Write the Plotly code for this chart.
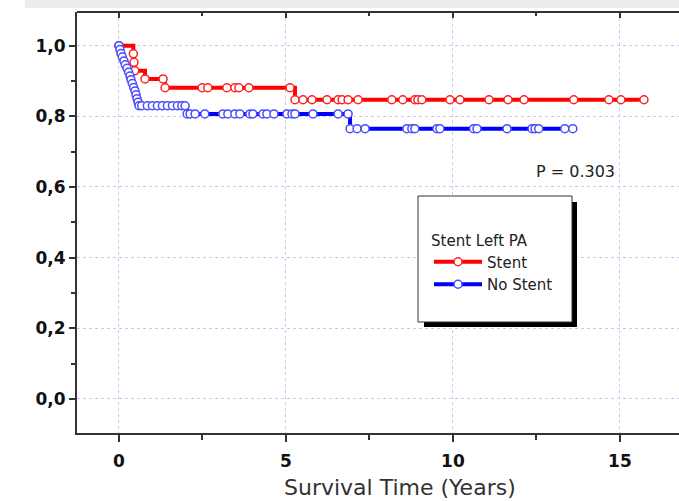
import plotly.graph_objects as go

# ---- data ----
stent_t = [0.0, 0.43, 0.45, 0.47, 0.78, 1.32, 1.38, 2.49, 2.66, 3.23, 3.47, 3.59, 3.89, 5.12,
           5.27, 5.51, 5.78, 6.23, 6.56, 6.68, 6.86, 7.16, 8.17, 8.50, 8.86, 8.95, 9.07, 9.91,
           10.21, 11.08, 11.65, 12.13, 13.62, 14.67, 15.03, 15.72]
stent_s = [1.0, 0.977, 0.953, 0.929, 0.906, 0.906, 0.881, 0.881, 0.881, 0.881, 0.881, 0.881, 0.881, 0.881,
           0.847, 0.847, 0.847, 0.847, 0.847, 0.847, 0.847, 0.847, 0.847, 0.847, 0.847, 0.847, 0.847, 0.847,
           0.847, 0.847, 0.847, 0.847, 0.847, 0.847, 0.847, 0.847]

nostent_t = [0.0, 0.03, 0.06, 0.10, 0.15, 0.19, 0.24, 0.29, 0.33, 0.36, 0.40, 0.44, 0.48, 0.51, 0.54, 0.57, 0.60,
             0.68, 0.85, 1.00, 1.15, 1.30, 1.45, 1.60, 1.75, 1.88, 1.98,
             2.04, 2.13, 2.28, 2.57, 3.11, 3.26, 3.47, 3.62, 3.92, 4.01, 4.31, 4.43, 4.64, 5.03, 5.18, 5.27, 5.81, 6.56, 6.86,
             6.92, 7.13, 7.37, 8.62, 8.77, 8.86, 9.52, 9.61, 10.62, 10.72, 11.62, 12.37, 12.46, 12.57, 13.35, 13.59]
nostent_s = [1.0, 0.989, 0.978, 0.968, 0.957, 0.946, 0.936, 0.925, 0.914, 0.904, 0.893, 0.882, 0.872, 0.861, 0.850, 0.840, 0.830,
             0.830, 0.830, 0.830, 0.830, 0.830, 0.830, 0.830, 0.830, 0.830, 0.830,
             0.807, 0.807, 0.807, 0.807, 0.807, 0.807, 0.807, 0.807, 0.807, 0.807, 0.807, 0.807, 0.807, 0.807, 0.807, 0.807, 0.807, 0.807, 0.807,
             0.765, 0.765, 0.765, 0.765, 0.765, 0.765, 0.765, 0.765, 0.765, 0.765, 0.765, 0.765, 0.765, 0.765, 0.765, 0.765]

series_names = ["Stent", "No Stent"]
legend_title = "Stent Left PA"
x_title = "Survival Time (Years)"
p_text = "P = 0.303"
x_ticks = [0, 5, 10, 15]
y_ticks = [0.0, 0.2, 0.4, 0.6, 0.8, 1.0]

FONT = "DejaVu Sans, Liberation Sans, Arial, sans-serif"

fig = go.Figure()
fig.add_trace(go.Scatter(
    x=stent_t, y=stent_s, name=series_names[0], mode="lines+markers", line_shape="hv",
    line=dict(color="#ff0000", width=4),
    marker=dict(symbol="circle", size=8, color="white", line=dict(color="#ff2020", width=1.5)),
))
fig.add_trace(go.Scatter(
    x=nostent_t, y=nostent_s, name=series_names[1], mode="lines+markers", line_shape="hv",
    line=dict(color="#0000ff", width=4),
    marker=dict(symbol="circle", size=8, color="white", line=dict(color="#4a4aff", width=1.5)),
))

W, H = 679, 501
L, R, T, B = 77, 0, 12, 68
pw, ph = W - L - R, H - T - B

def px(x):
    return (x - L) / pw

def py(y):
    return (H - B - y) / ph

shapes = [
    dict(type="rect", xref="paper", yref="paper", x0=px(25), x1=px(679), y0=py(8), y1=py(0),
         fillcolor="#ececec", line=dict(width=0), layer="below"),
    dict(type="line", xref="paper", yref="paper", x0=0, x1=1, y0=1, y1=1,
         line=dict(color="#333333", width=2), layer="above"),
    dict(type="rect", xref="paper", yref="paper", x0=px(424), x1=px(577), y0=py(327), y1=py(202),
         fillcolor="black", line=dict(width=0), layer="above"),
    dict(type="rect", xref="paper", yref="paper", x0=px(418), x1=px(572), y0=py(322), y1=py(196),
         fillcolor="white", line=dict(color="#333333", width=1), layer="above"),
]

fig.update_layout(
    width=W, height=H,
    margin=dict(l=L, r=R, t=T, b=B, pad=0),
    paper_bgcolor="white", plot_bgcolor="white",
    separators=",.",
    font=dict(family=FONT, color="#222222"),
    shapes=shapes,
    showlegend=True,
    legend=dict(
        x=px(429), y=py(226), xanchor="left", yanchor="top",
        bgcolor="rgba(0,0,0,0)", borderwidth=0,
        title=dict(text=legend_title, font=dict(size=15, family=FONT, color="#222222")),
        font=dict(size=15, family=FONT, color="#222222"),
        itemwidth=48, tracegroupgap=0,
    ),
    annotations=[
        dict(text=p_text, xref="paper", yref="paper", x=px(575), y=py(171),
             xanchor="center", yanchor="middle", showarrow=False,
             font=dict(size=16, family=FONT, color="#222222")),
        dict(text=x_title, xref="paper", yref="paper", x=px(400), y=py(487),
             xanchor="center", yanchor="middle", showarrow=False,
             font=dict(size=22, family=FONT, color="#333333")),
    ],
    xaxis=dict(
        range=[-1.257, 16.77], tickvals=x_ticks, ticktext=[str(v) for v in x_ticks],
        showgrid=True, gridcolor="#c8c8f4", griddash="dot", gridwidth=1,
        zeroline=False, showline=True, linecolor="#333333", linewidth=2,
        ticks="outside", ticklen=7, tickwidth=2, tickcolor="#333333",
        ticklabelstandoff=5,
        minor=dict(dtick=2.5, tick0=0, ticks="outside", ticklen=5, tickwidth=1.5, tickcolor="#333333", showgrid=False),
        tickfont=dict(size=17, family=FONT, color="#111111", weight="bold"),
    ),
    xaxis2=dict(
        overlaying="x", side="top", anchor="y", matches="x", range=[-1.257, 16.77],
        tickvals=x_ticks, showticklabels=False, showgrid=False, zeroline=False,
        showline=False,
        ticks="inside", ticklen=6, tickwidth=2, tickcolor="#333333",
        minor=dict(dtick=2.5, tick0=0, ticks="inside", ticklen=4, tickwidth=1.5, tickcolor="#333333", showgrid=False),
    ),
    yaxis=dict(
        range=[-0.0966, 1.0955], tickvals=y_ticks, tickformat=".1f",
        showgrid=True, gridcolor="#c8c8f4", griddash="dot", gridwidth=1,
        zeroline=False, showline=True, linecolor="#333333", linewidth=2,
        ticks="outside", ticklen=6, tickwidth=2, tickcolor="#333333",
        minor=dict(dtick=0.1, tick0=0, ticks="outside", ticklen=4, tickwidth=1.5, tickcolor="#333333", showgrid=False),
        tickfont=dict(size=17, family=FONT, color="#111111", weight="bold"),
    ),
)

fig.add_trace(go.Scatter(x=[None], y=[None], xaxis="x2", yaxis="y", showlegend=False, hoverinfo="skip"))

fig.write_html("out.html")
